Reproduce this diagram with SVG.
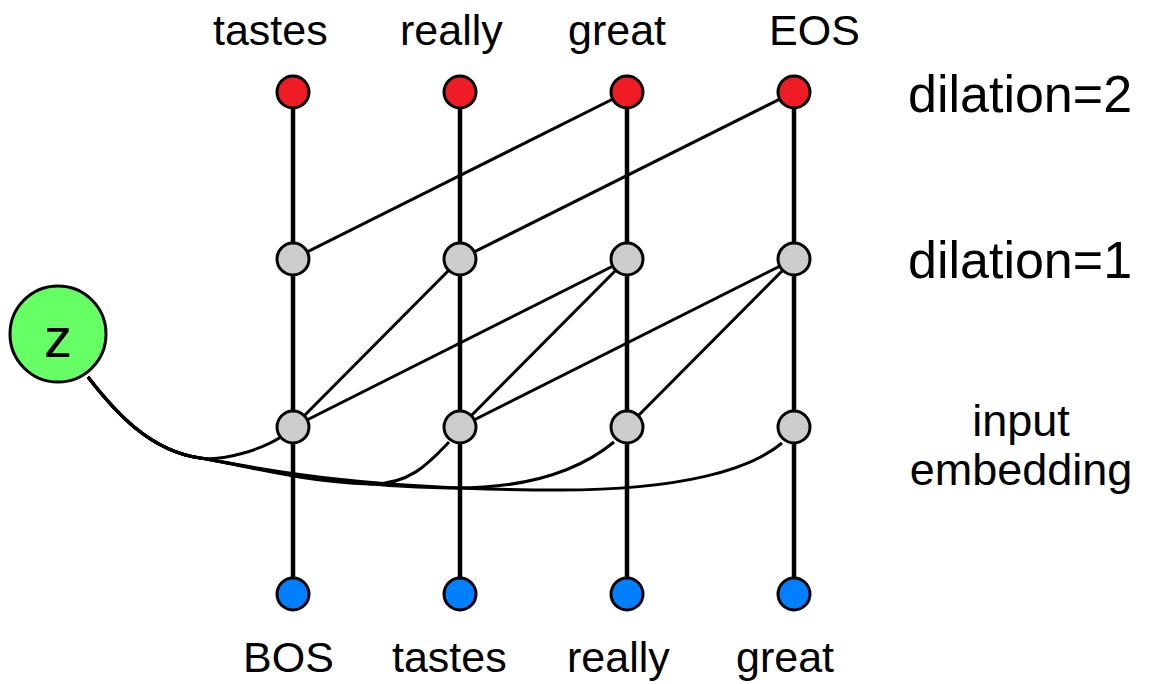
<svg xmlns="http://www.w3.org/2000/svg" width="1154" height="684" viewBox="0 0 1154 684">
<style>
.v{stroke:#000;stroke-width:4.5;fill:none}
.e{stroke:#000;stroke-width:3;fill:none}
.n{stroke:#000;stroke-width:3}
.top{fill:#ee1c24}
.mid{fill:#cccccc}
.bot{fill:#0080ff}
text{font-family:"Liberation Sans",Arial,sans-serif;fill:#000}
.lab{font-size:43px}
.side{font-size:52px}
.side2{font-size:45px}
</style>
<rect width="1154" height="684" fill="#fff"/>
<g id="connectors">
<line class="v" x1="293" y1="92" x2="293" y2="594"/>
<line class="v" x1="460" y1="92" x2="460" y2="594"/>
<line class="v" x1="627" y1="92" x2="627" y2="594"/>
<line class="v" x1="794" y1="92" x2="794" y2="594"/>
<line class="e" x1="293" y1="259" x2="627" y2="92"/>
<line class="e" x1="460" y1="259" x2="794" y2="92"/>
<line class="e" x1="293" y1="427" x2="460" y2="259"/>
<line class="e" x1="293" y1="427" x2="627" y2="259"/>
<line class="e" x1="460" y1="427" x2="627" y2="259"/>
<line class="e" x1="460" y1="427" x2="794" y2="259"/>
<line class="e" x1="627" y1="427" x2="794" y2="259"/>
<path class="e" d="M88,377 C115,412 150,451 200,458 C225,461.5 262,449 281,437"/>
<path class="e" d="M88,377 C115,412 150,451 200,458 C240,464 300,482 370,484 C410,485 430,462 449,442"/>
<path class="e" d="M88,377 C115,412 150,451 200,458 C240,464 320,486 450,488 C530,489 580,470 614,442"/>
<path class="e" d="M88,377 C115,412 150,451 200,458 C240,464 340,490 560,490 C680,490 750,470 782,443"/>
</g>
<g id="z"><circle class="n" cx="58" cy="334" r="48" fill="#66ff66"/><text x="58" y="357" font-size="56" text-anchor="middle">z</text></g>
<g id="top0"><circle class="n top" cx="293" cy="92" r="16"/></g>
<g id="top1"><circle class="n top" cx="460" cy="92" r="16"/></g>
<g id="top2"><circle class="n top" cx="627" cy="92" r="16"/></g>
<g id="top3"><circle class="n top" cx="794" cy="92" r="16"/></g>
<g id="mid0"><circle class="n mid" cx="293" cy="259" r="16"/></g>
<g id="mid1"><circle class="n mid" cx="460" cy="259" r="16"/></g>
<g id="mid2"><circle class="n mid" cx="627" cy="259" r="16"/></g>
<g id="mid3"><circle class="n mid" cx="794" cy="259" r="16"/></g>
<g id="in0"><circle class="n mid" cx="293" cy="427" r="16"/></g>
<g id="in1"><circle class="n mid" cx="460" cy="427" r="16"/></g>
<g id="in2"><circle class="n mid" cx="627" cy="427" r="16"/></g>
<g id="in3"><circle class="n mid" cx="794" cy="427" r="16"/></g>
<g id="bot0"><circle class="n bot" cx="293" cy="594" r="16"/></g>
<g id="bot1"><circle class="n bot" cx="460" cy="594" r="16"/></g>
<g id="bot2"><circle class="n bot" cx="627" cy="594" r="16"/></g>
<g id="bot3"><circle class="n bot" cx="794" cy="594" r="16"/></g>
<g id="labels">
<text class="lab" x="213" y="45">tastes</text>
<text class="lab" x="400" y="45">really</text>
<text class="lab" x="568" y="45">great</text>
<text class="lab" x="769" y="45">EOS</text>
<text class="lab" x="243" y="672">BOS</text>
<text class="lab" x="392" y="672">tastes</text>
<text class="lab" x="567" y="672">really</text>
<text class="lab" x="736" y="672">great</text>
<text class="side" x="908" y="112">dilation=2</text>
<text class="side" x="908" y="278">dilation=1</text>
<text class="side2" x="1021" y="436" text-anchor="middle">input</text>
<text class="side2" x="1021" y="485" text-anchor="middle">embedding</text>
</g>
</svg>
